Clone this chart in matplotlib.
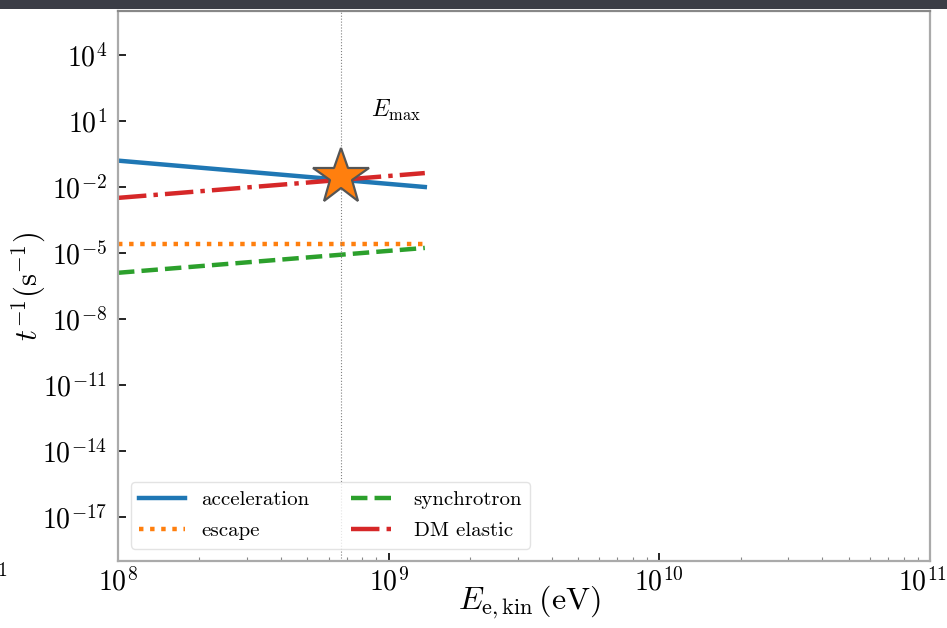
import matplotlib
matplotlib.use("Agg")
import matplotlib.pyplot as plt
from matplotlib.patches import Rectangle
from matplotlib.transforms import ScaledTranslation
import numpy as np

plt.rcParams['mathtext.fontset'] = 'cm'
plt.rcParams['font.family'] = 'serif'
plt.rcParams['font.serif'] = ['cmr10', 'DejaVu Serif']
plt.rcParams['axes.formatter.use_mathtext'] = True
plt.rcParams['axes.unicode_minus'] = False

# Data
E = [1e8, 1.36e9]
acceleration = [0.158, 0.0100]
escape = [2.5e-5, 2.5e-5]
synchrotron = [1.26e-6, 1.7e-5]
dm_elastic = [3.2e-3, 0.043]
E_max = 6.65e8
rate_at_Emax = 0.028
x_ticks = [1e8, 1e9, 1e10, 1e11]
y_ticks = [1e-17, 1e-14, 1e-11, 1e-8, 1e-5, 1e-2, 1e1, 1e4]

fig = plt.figure(figsize=(9.47, 6.28), dpi=100)
ax = fig.add_axes([118/947, 1-561/628, (930-118)/947, (561-11)/628])

ax.plot(E, acceleration, color='#1f77b4', lw=3.2, ls='-', label='acceleration')
ax.plot(E, escape, color='#ff7f0e', lw=3.2, ls=(0, (1, 1.5)), label='escape')
ax.plot(E, synchrotron, color='#2ca02c', lw=3.2, ls=(0, (3.7, 1.6)), label='synchrotron')
ax.plot(E, dm_elastic, color='#d62728', lw=3.2, ls=(0, (6.4, 1.6, 1, 1.6)), label='DM elastic')

ax.axvline(E_max, color='grey', lw=0.8, ls=':')
ax.plot([E_max], [rate_at_Emax], marker='*', ms=42, color='#ff7f0e',
        markeredgecolor='#555555', mew=1.6, zorder=5)
ax.text(8.6e8, 30, r'$E_{\rm max}$', fontsize=17, ha='left', va='center')

ax.set_xscale('log')
ax.set_yscale('log')
ax.set_xlim(1e8, 1e11)
ax.set_ylim(1e-19, 1e6)
ax.set_xticks(x_ticks)
ax.set_yticks(y_ticks)
ax.yaxis.set_minor_locator(matplotlib.ticker.NullLocator())

ax.tick_params(axis='both', which='major', direction='in', length=6, width=1.2,
               labelsize=20, color='black')
ax.tick_params(axis='x', which='minor', direction='in', length=3, width=0.8, color='#888888')
ax.tick_params(axis='x', which='major', pad=5)
ax.tick_params(axis='y', which='major', pad=8)

for s in ax.spines.values():
    s.set_color('#aaaaaa')
    s.set_linewidth(1.6)
ax.spines['top'].set_color('#888888')

ax.set_xlabel(r'$E_{\rm e,kin}\,({\rm eV})$', fontsize=23)
ax.set_ylabel(r'$t^{-1}({\rm s}^{-1})$', fontsize=22)
ax.xaxis.set_label_coords((529-118)/812, -(584-561)/550)
ax.yaxis.set_label_coords(-(118-48)/812, (561-287)/550)

leg = ax.legend(loc='lower left', ncol=2, fontsize=15, frameon=True, fancybox=True,
                handlelength=2.2, handletextpad=0.8, columnspacing=2.0,
                borderaxespad=0.6, labelspacing=0.6)
leg.get_frame().set_edgecolor('#dddddd')

# keep the last x tick label inside the figure, as in the reference
last = ax.xaxis.get_major_ticks()[-1]
last.label1.set_transform(last.label1.get_transform()
                          + ScaledTranslation(-8/100, 0, fig.dpi_scale_trans))

# dark band at the top of the image and a cut-off label on the left edge
fig.patches.append(Rectangle((0, 1-9/628), 1, 9/628, transform=fig.transFigure,
                             facecolor='#3b3d46', edgecolor='none', zorder=0))
fig.text(-0.003, 1-571/628, r'$1$', fontsize=14, ha='left', va='center')

fig.savefig('out.png', dpi=100)
